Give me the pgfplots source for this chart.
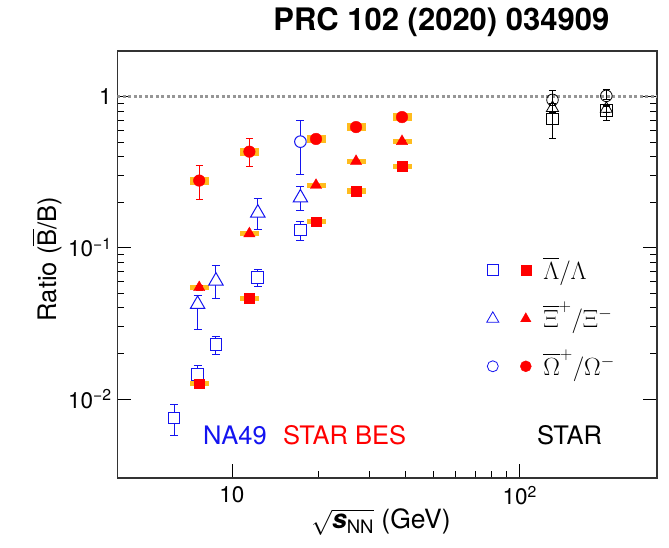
\documentclass[border=0pt]{standalone}
\usepackage{fontspec}
\setmainfont{TeX Gyre Heros}
\usepackage{amsmath}
\usepackage{pgfplots}
\pgfplotsset{compat=1.18}

\definecolor{na49blue}{RGB}{20,20,240}
\definecolor{besred}{RGB}{255,0,0}
\definecolor{sysorange}{RGB}{255,188,30}
\definecolor{dashgray}{RGB}{150,150,150}

% BES systematic boxes (x, y, half height)
\pgfplotstableread{
x y s
7.7 0.0126 0.0005
11.5 0.0464 0.0019
19.6 0.149 0.006
27 0.237 0.0095
39 0.346 0.014
7.7 0.0546 0.0022
11.5 0.124 0.005
19.6 0.259 0.010
27 0.373 0.015
39 0.505 0.020
7.7 0.278 0.017
11.5 0.432 0.026
19.6 0.524 0.031
27 0.628 0.038
39 0.731 0.044
}\syserr

\pgfplotstableread{
x y ep em
6.3 0.0075 0.0017 0.0018
7.6 0.0145 0.0021 0.0021
8.8 0.0229 0.0029 0.0033
12.3 0.0635 0.0085 0.0085
17.3 0.131 0.019 0.020
}\naLambda

\begin{document}
\begin{tikzpicture}
\path[use as bounding box] (-117.4pt,-70pt) rectangle (551.6pt,478pt);
\begin{axis}[
  at={(0pt,0pt)}, anchor=south west,
  scale only axis, width=539.6pt, height=427pt,
  xmode=log, ymode=log,
  xmin=4, xmax=300, ymin=0.003, ymax=2,
  axis line style={line width=1.1pt, black!80},
  tick align=inside, xtick pos=left,
  major tick length=14pt, minor tick length=7pt,
  every tick/.style={black, line width=0.8pt},
  xtick={10,100}, xticklabels={10, 10\textsuperscript{2}},
  ytick={0.01,0.1,1}, yticklabels={10\textsuperscript{−2}, 10\textsuperscript{−1}, 1},
  tick label style={font=\fontsize{22.5}{24}\selectfont},
  yticklabel style={inner sep=0pt, xshift=-5.5pt},
  xticklabel style={inner sep=0pt, yshift=-8pt},
  xlabel={$\sqrt{\textbf{\textit{s}}_{\text{NN}}}$ (GeV)},
  ylabel={Ratio ($\overline{\mbox{B}}$/B)},
  xlabel style={font=\fontsize{26.5}{28}\selectfont, at={(axis description cs:0.4885,-0.103)}, anchor=center},
  ylabel style={font=\fontsize{25.5}{27}\selectfont, at={(axis description cs:-0.1305,0.513)}, anchor=center},
  legend style={at={(axis description cs:0.6841,0.508)}, anchor=north west,
    draw=none, fill=none, inner sep=0pt, row sep=24pt, column sep=10pt,
    nodes={inner sep=2pt, text height=16pt, text depth=4pt},
    font=\fontsize{25}{27}\selectfont},
  legend cell align=left,
]
% reference line at unity
\addplot[forget plot, dashgray, line width=2.5pt, dash pattern=on 3pt off 2.5pt]
  coordinates {(4,1) (300,1)};

% systematic uncertainty boxes
\addplot[forget plot, only marks, mark=none,
  error bars/.cd, y dir=both, y explicit, error mark=none,
  error bar style={line width=19pt, sysorange}]
  table[x=x, y=y, y error=s] {\syserr};

% NA49: error bars first, then open markers on a white ground
\addplot[forget plot, only marks, mark=none,
  error bars/.cd, y dir=both, y explicit,
  error bar style={color=na49blue, line width=1pt},
  error mark options={rotate=90, color=na49blue, mark size=4pt, line width=1pt}]
  table[x=x, y=y, y error plus=ep, y error minus=em] {\naLambda};
\addplot[forget plot, only marks, mark=square*, mark size=5.8pt,
  mark options={draw=na49blue, fill=white, line width=1pt}]
  table[x=x, y=y] {\naLambda};
\addplot[forget plot, only marks, color=na49blue, mark=triangle*, mark size=8.3pt,
  mark options={color=na49blue, fill=white, line width=1pt},
  error bars/.cd, y dir=both, y explicit,
  error bar style={color=na49blue, line width=1pt},
  error mark options={rotate=90, color=na49blue, mark size=4pt, line width=1pt}]
  table[x=x, y=y, y error plus=ep, y error minus=em] {
x y ep em
7.6 0.0423 0.0057 0.0133
8.8 0.0603 0.0159 0.0144
12.3 0.170 0.042 0.038
17.3 0.214 0.041 0.038
};
\addplot[forget plot, only marks, color=na49blue, mark=*, mark size=5.8pt,
  mark options={color=na49blue, fill=white, line width=1pt},
  error bars/.cd, y dir=both, y explicit,
  error bar style={color=na49blue, line width=1pt},
  error mark options={rotate=90, color=na49blue, mark size=4pt, line width=1pt}]
  table[x=x, y=y, y error plus=ep, y error minus=em] {
x y ep em
17.3 0.503 0.196 0.197
};

% STAR BES
\addplot[forget plot, only marks, besred, mark=square*, mark size=4.8pt,
  error bars/.cd, y dir=both, y explicit,
  error bar style={line width=0.8pt},
  error mark options={rotate=90, mark size=3.5pt, line width=0.8pt}]
  table[x=x, y=y, y error plus=ep, y error minus=em] {
x y ep em
7.7 0.0126 0.0004 0.0004
11.5 0.0464 0.001 0.001
19.6 0.149 0.002 0.002
27 0.237 0.003 0.003
39 0.346 0.003 0.003
};
\addplot[forget plot, only marks, besred, mark=triangle*, mark size=6.5pt,
  error bars/.cd, y dir=both, y explicit,
  error bar style={line width=0.8pt},
  error mark options={rotate=90, mark size=3.5pt, line width=0.8pt}]
  table[x=x, y=y, y error plus=ep, y error minus=em] {
x y ep em
7.7 0.0546 0.002 0.002
11.5 0.124 0.003 0.003
19.6 0.259 0.005 0.005
27 0.373 0.006 0.006
39 0.505 0.008 0.008
};
\addplot[forget plot, only marks, besred, mark=*, mark size=5.8pt,
  error bars/.cd, y dir=both, y explicit,
  error bar style={line width=0.8pt},
  error mark options={rotate=90, mark size=3.5pt, line width=0.8pt}]
  table[x=x, y=y, y error plus=ep, y error minus=em] {
x y ep em
7.7 0.278 0.071 0.068
11.5 0.432 0.094 0.088
19.6 0.524 0.03 0.03
27 0.628 0.03 0.03
39 0.731 0.03 0.03
};

% STAR
\addplot[forget plot, only marks, black, mark=square, mark size=5.8pt,
  mark options={line width=0.8pt},
  error bars/.cd, y dir=both, y explicit,
  error bar style={line width=0.8pt},
  error mark options={rotate=90, mark size=3.5pt, line width=0.8pt}]
  table[x=x, y=y, y error plus=ep, y error minus=em] {
x y ep em
130 0.71 0.16 0.18
200 0.81 0.05 0.12
};
\addplot[forget plot, only marks, black, mark=triangle, mark size=7pt,
  mark options={line width=0.8pt},
  error bars/.cd, y dir=both, y explicit,
  error bar style={line width=0.8pt},
  error mark options={rotate=90, mark size=3.5pt, line width=0.8pt}]
  table[x=x, y=y, y error plus=ep, y error minus=em] {
x y ep em
130 0.84 0.06 0.055
200 0.83 0.05 0.05
};
\addplot[forget plot, only marks, black, mark=o, mark size=5.8pt,
  mark options={line width=0.8pt},
  error bars/.cd, y dir=both, y explicit,
  error bar style={line width=0.8pt},
  error mark options={rotate=90, mark size=3.5pt, line width=0.8pt}]
  table[x=x, y=y, y error plus=ep, y error minus=em] {
x y ep em
130 0.95 0.15 0.15
200 1.01 0.10 0.06
};

% legend: open NA49 marker and filled BES marker side by side
\addlegendimage{legend image code/.code={
  \draw[na49blue, line width=0.8pt] plot[mark=square, mark size=5.5pt] coordinates {(0pt,0.3em)};
  \draw[besred] plot[mark=square*, mark size=5pt] coordinates {(33pt,0.3em)};}}
\addlegendentry{$\overline{\Lambda}/\Lambda$}
\addlegendimage{legend image code/.code={
  \draw[na49blue, line width=0.8pt] plot[mark=triangle, mark size=7pt] coordinates {(0pt,0.25em)};
  \draw[besred] plot[mark=triangle*, mark size=6pt] coordinates {(33pt,0.25em)};}}
\addlegendentry{$\overline{\Xi}^{+}/\Xi^{-}$}
\addlegendimage{legend image code/.code={
  \draw[na49blue, line width=0.8pt] plot[mark=o, mark size=5.5pt] coordinates {(0pt,0.3em)};
  \draw[besred] plot[mark=*, mark size=5.5pt] coordinates {(33pt,0.3em)};}}
\addlegendentry{$\overline{\Omega}^{+}/\Omega^{-}$}
\end{axis}

\node[anchor=base, font=\bfseries\fontsize{31}{33}\selectfont] at (324pt,447pt) {PRC 102 (2020) 034909};
\node[anchor=base west, inner sep=0pt, na49blue, font=\fontsize{25.5}{27}\selectfont] at (85.6pt,33pt) {NA49};
\node[anchor=base west, inner sep=0pt, besred, font=\fontsize{25.5}{27}\selectfont] at (165.6pt,33pt) {STAR BES};
\node[anchor=base west, inner sep=0pt, black, font=\fontsize{25.5}{27}\selectfont] at (419.6pt,33pt) {STAR};
\end{tikzpicture}
\end{document}
